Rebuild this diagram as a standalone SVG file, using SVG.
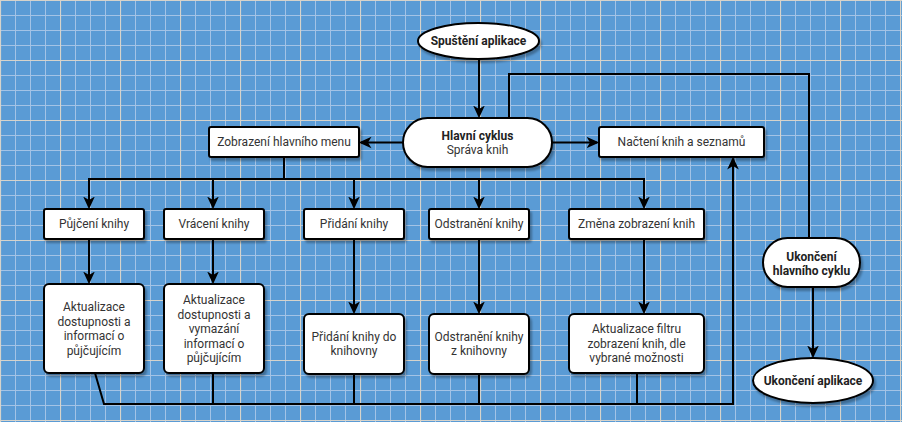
<svg xmlns="http://www.w3.org/2000/svg" width="902" height="422" viewBox="0 0 902 422">
<defs>
<pattern id="minor" width="15" height="15" patternUnits="userSpaceOnUse">
<path d="M0,0.5 H15 M0.5,0 V15" fill="none" stroke="#a3c3e6" stroke-width="1"/>
</pattern>
<pattern id="major" width="60" height="60" patternUnits="userSpaceOnUse">
<path d="M0,0.5 H60 M0.5,0 V60" fill="none" stroke="#d6d3cb" stroke-width="1.2"/>
</pattern>
<marker id="arr" markerUnits="userSpaceOnUse" markerWidth="14" markerHeight="14" refX="9" refY="5" orient="auto" viewBox="0 0 12 10">
<path d="M0,0 L11,5 L0,10 L3,5 Z" fill="#000"/>
</marker>
<filter id="sh" x="-10%" y="-10%" width="130%" height="140%">
<feDropShadow dx="2" dy="3" stdDeviation="1" flood-color="#000" flood-opacity="0.3"/>
</filter>
</defs>
<style>
.box{fill:#fff;stroke:#000;stroke-width:2;filter:url(#sh)}
.t{font-family:Roboto,"Liberation Sans",sans-serif;font-size:12px;fill:#333;text-anchor:middle}
.b{font-weight:bold;fill:#222}
.c{fill:none;stroke:#000;stroke-width:2}
</style>
<rect width="902" height="422" fill="#5a9bd5"/>
<rect width="902" height="422" fill="url(#minor)"/>
<rect width="902" height="422" fill="url(#major)"/>

<g id="connectors">
<path class="c" d="M479,59 V116" marker-end="url(#arr)"/>
<path class="c" d="M403,142.5 H361" marker-end="url(#arr)"/>
<path class="c" d="M552,142.5 H597" marker-end="url(#arr)"/>
<path class="c" d="M284,157 V179 H89 V207" marker-end="url(#arr)"/>
<path class="c" d="M284,179 H644 V207" marker-end="url(#arr)"/>
<path class="c" d="M213,179 V207" marker-end="url(#arr)"/>
<path class="c" d="M354,179 V207" marker-end="url(#arr)"/>
<path class="c" d="M479,179 V207" marker-end="url(#arr)"/>
<path class="c" d="M89,239 V282" marker-end="url(#arr)"/>
<path class="c" d="M213,239 V282" marker-end="url(#arr)"/>
<path class="c" d="M354,239 V312" marker-end="url(#arr)"/>
<path class="c" d="M479,239 V312" marker-end="url(#arr)"/>
<path class="c" d="M644,239 V312" marker-end="url(#arr)"/>
<path class="c" d="M95,373 L104,404 H733 V159" marker-end="url(#arr)"/>
<path class="c" d="M213,373 V404"/>
<path class="c" d="M354,374 V404"/>
<path class="c" d="M479,374 V404"/>
<path class="c" d="M637,373 V404"/>
<path class="c" d="M509,118 V74 H809 V238"/>
<path class="c" d="M813,287 V356" marker-end="url(#arr)"/>
</g>

<g id="start">
<ellipse class="box" cx="478.5" cy="41" rx="60.5" ry="18"/>
<text class="t b" x="478.5" y="45">Spuštění aplikace</text>
</g>
<g id="main-loop">
<rect class="box" x="403" y="118" width="149" height="49" rx="24.5"/>
<text class="t b" x="477.5" y="140">Hlavní cyklus</text>
<text class="t" x="477.5" y="154">Správa knih</text>
</g>
<g id="menu">
<rect class="box" x="209" y="127" width="150" height="30" rx="2"/>
<text class="t" x="284" y="146">Zobrazení hlavního menu</text>
</g>
<g id="load">
<rect class="box" x="599" y="127" width="165" height="30" rx="2"/>
<text class="t" x="681.5" y="146">Načtení knih a seznamů</text>
</g>
<g id="borrow">
<rect class="box" x="44" y="209" width="100" height="30" rx="2"/>
<text class="t" x="94" y="228">Půjčení knihy</text>
</g>
<g id="return">
<rect class="box" x="164" y="209" width="100" height="30" rx="2"/>
<text class="t" x="214" y="228">Vrácení knihy</text>
</g>
<g id="add">
<rect class="box" x="304" y="209" width="100" height="30" rx="2"/>
<text class="t" x="354" y="228">Přidání knihy</text>
</g>
<g id="remove">
<rect class="box" x="429" y="209" width="100" height="30" rx="2"/>
<text class="t" x="479" y="228">Odstranění knihy</text>
</g>
<g id="change-view">
<rect class="box" x="569" y="209" width="135" height="30" rx="2"/>
<text class="t" x="636.5" y="228">Změna zobrazení knih</text>
</g>
<g id="borrow-update">
<rect class="box" x="44" y="284" width="100" height="89" rx="5"/>
<text class="t" x="94" y="311">Aktualizace</text>
<text class="t" x="94" y="325.5">dostupnosti a</text>
<text class="t" x="94" y="340">informací o</text>
<text class="t" x="94" y="354.5">půjčujícím</text>
</g>
<g id="return-update">
<rect class="box" x="164" y="284" width="100" height="89" rx="5"/>
<text class="t" x="214" y="304">Aktualizace</text>
<text class="t" x="214" y="318.5">dostupnosti a</text>
<text class="t" x="214" y="333">vymazání</text>
<text class="t" x="214" y="347.5">informací o</text>
<text class="t" x="214" y="362">půjčujícím</text>
</g>
<g id="add-library">
<rect class="box" x="304" y="314" width="100" height="60" rx="5"/>
<text class="t" x="354" y="341">Přidání knihy do</text>
<text class="t" x="354" y="355">knihovny</text>
</g>
<g id="remove-library">
<rect class="box" x="429" y="314" width="100" height="60" rx="5"/>
<text class="t" x="479" y="341">Odstranění knihy</text>
<text class="t" x="479" y="355">z knihovny</text>
</g>
<g id="filter-update">
<rect class="box" x="569" y="314" width="135" height="59" rx="5"/>
<text class="t" x="636.5" y="333">Aktualizace filtru</text>
<text class="t" x="636.5" y="347.5">zobrazení knih, dle</text>
<text class="t" x="636.5" y="362">vybrané možnosti</text>
</g>
<g id="end-loop">
<rect class="box" x="763" y="238" width="97" height="49" rx="24.5"/>
<text class="t b" x="811.5" y="261">Ukončení</text>
<text class="t b" x="811.5" y="275">hlavního cyklu</text>
</g>
<g id="end">
<ellipse class="box" cx="813" cy="380.5" rx="60" ry="22.5"/>
<text class="t b" x="813" y="385">Ukončení aplikace</text>
</g>
</svg>
